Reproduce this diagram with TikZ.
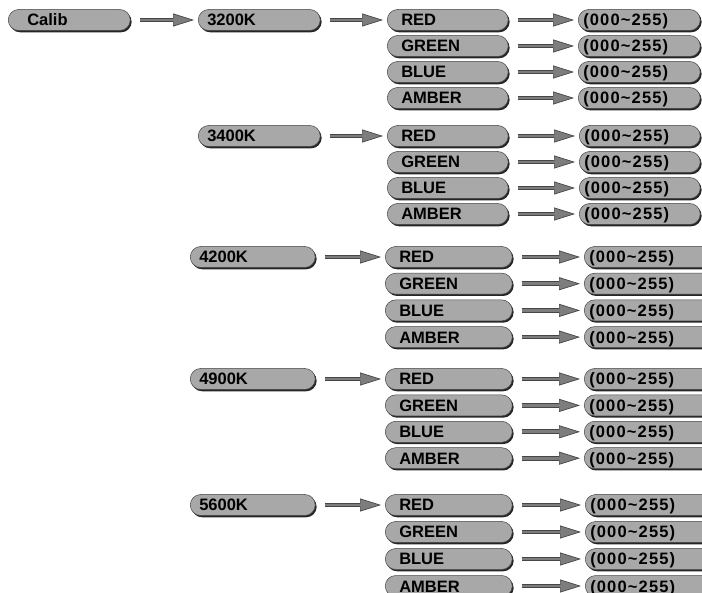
\documentclass[tikz,border=0pt]{standalone}
\usepackage{fontspec}
\setmainfont{Liberation Sans}
\usetikzlibrary{arrows.meta,shadows}
\definecolor{pillgray}{RGB}{168,168,168}
\definecolor{arrowgray}{RGB}{125,125,125}
\definecolor{edgegray}{RGB}{70,70,70}

\tikzset{
  pill/.style={draw=edgegray, line width=0.5pt, fill=pillgray, rounded corners=10.5pt,
    minimum height=21pt, inner ysep=0pt, text height=12pt, text depth=0pt,
    align=left, anchor=west, font=\bfseries\fontsize{16.5}{18}\selectfont,
    drop shadow={shadow xshift=1.4pt, shadow yshift=-1.8pt, fill=black!85, opacity=1}},
  menubox/.style={pill, inner xsep=19pt, text width=84pt},
  tempbox/.style={pill, inner xsep=9pt, text width=#1},
  colbox/.style={pill, inner xsep=14pt, text width=#1},
  valbox/.style={pill, inner xsep=5pt, text width=#1},
  conn/.style={draw=edgegray, line width=4.8pt, shorten <=9pt, shorten >=4pt,
    -{Triangle[length=21pt, width=13pt, fill=arrowgray, line width=0.7pt]},
    postaction={draw=arrowgray, line width=2.8pt, -, shorten >=16pt}}
}

\begin{document}
\begin{tikzpicture}[x=1pt, y=-1pt]
		%%%%% START %%%%%
		\useasboundingbox (0,0) rectangle (702,593);
		\clip (0,0) rectangle (702,593);
		
		\node[menubox] (calib) at (8,20) {Calib};
		
		% temperature / colour / value
		\foreach \t/\xt/\wt/\xc/\wc/\xv/\wv/\yo/\dy in {
			3200K/198/104/387/93/578/112/20/26,
			3400K/198/104/387/93/579/111/136/26,
			4200K/190/107/385/99/584/120/257/26.7,
			4900K/190/107/385/99/584/120/379/26.4,
			5600K/190/107/385/99/585/120/505/27}{
			\node[tempbox=\wt] (t\t) at (\xt,\yo) {\t};
			\foreach \c [count=\i from 0] in {RED,GREEN,BLUE,AMBER}{
				\node[colbox=\wc] (\c\t) at (\xc,\yo+\i*\dy) {\c};
				\node[valbox=\wv] (v\c\t) at (\xv,\yo+\i*\dy)
					{\addfontfeatures{LetterSpace=7}(000\textasciitilde255)};
				\draw[conn] (\c\t) -- (v\c\t);
			}
			\draw[conn] (t\t) -- (RED\t);
		}
		
		\draw[conn] (calib) -- (t3200K);
		
		%%%%% END %%%%%
\end{tikzpicture}
\end{document}
